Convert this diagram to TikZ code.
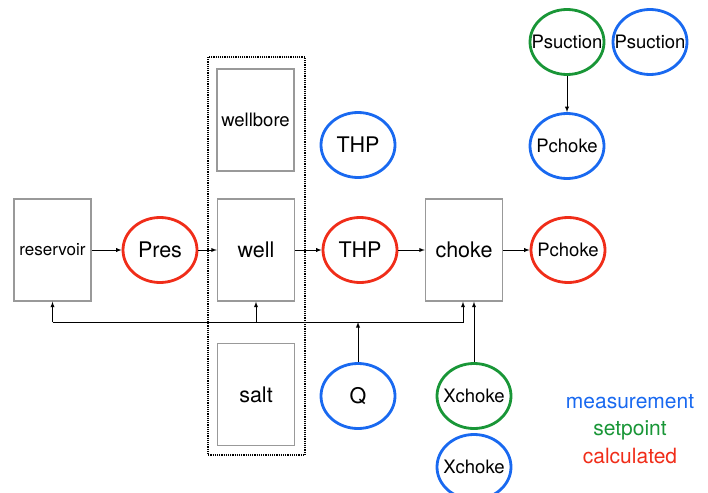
\documentclass[tikz,border=0pt]{standalone}
\usepackage{fontspec}
\setmainfont{TeX Gyre Heros}
\usetikzlibrary{shapes.geometric}
\definecolor{calcred}{RGB}{240,45,25}
\definecolor{measblue}{RGB}{25,105,240}
\definecolor{setgreen}{RGB}{25,150,55}
\newcommand{\bigtxt}{\fontsize{21.5}{23}\selectfont}
\newcommand{\midtxt}{\fontsize{18.5}{20}\selectfont}
\newcommand{\vname}[1]{\makebox[0pt]{#1}}
\begin{document}
\begin{tikzpicture}
        [x=1pt,y=-1pt,
        box/.style={draw=gray!80,line width=1.4pt,minimum width=77pt,minimum height=102pt,inner sep=0pt},
        var/.style={ellipse,line width=2.8pt,minimum width=74pt,minimum height=65pt,inner sep=0pt},
        calc/.style={var,draw=calcred},
        meas/.style={var,draw=measblue},
        setp/.style={var,draw=setgreen},
        link/.style={-latex,line width=0.9pt}]
        \useasboundingbox (0,0) rectangle (708,492);
        % blocks
        \node[box] (reservoir) at (52.5,250) {\fontsize{17}{18}\selectfont reservoir};
        \node[box] (wellbore) at (255.5,120) {\midtxt wellbore};
        \node[box] (well) at (256,250) {\bigtxt well};
        \node[box] (salt) at (256,394.5) {\bigtxt salt};
        \node[box] (choke) at (464,250) {\bigtxt choke};
        \draw[densely dotted,line width=1.2pt] (208,57) rectangle (305,455);
        % variables
        \node[calc] (pres) at (160,250) {\bigtxt\vname{Pres}};
        \node[calc] (thpcalc) at (360,250) {\bigtxt\vname{THP}};
        \node[calc] (pchokecalc) at (568,250) {\midtxt\vname{Pchoke}};
        \node[meas] (thpmeas) at (358,145) {\bigtxt\vname{THP}};
        \node[meas] (q) at (358,396) {\bigtxt\vname{Q}};
        \node[setp] (xchokeset) at (474,396) {\midtxt\vname{Xchoke}};
        \node[meas] (xchokemeas) at (474,467) {\midtxt\vname{Xchoke}};
        \node[setp] (psucset) at (567,42) {\midtxt\vname{Psuction}};
        \node[meas] (psucmeas) at (650,42) {\midtxt\vname{Psuction}};
        \node[meas] (pchokemeas) at (567,146) {\midtxt\vname{Pchoke}};
        % legend
        \node[text=measblue] (lmeas) at (630,402) {\fontsize{21}{23}\selectfont measurement};
        \node[text=setgreen] (lset) at (630,430) {\fontsize{21}{23}\selectfont setpoint};
        \node[text=calcred] (lcalc) at (630,456) {\fontsize{21}{23}\selectfont calculated};
        % flow
        \draw[link] (reservoir) -- (pres);
        \draw[link] (pres) -- (well);
        \draw[link] (well) -- (thpcalc);
        \draw[link] (thpcalc) -- (choke);
        \draw[link] (choke) -- (pchokecalc);
        \draw[link] (psucset) -- (pchokemeas);
        % feedback line
        \coordinate (fb) at (358,322);
        \draw[link] (reservoir.south |- fb) -- (reservoir.south);
        \draw[link] (well.south |- fb) -- (well.south);
        \draw[link] (reservoir.south |- fb) -| ([xshift=-1pt]choke.south);
        \draw[link] (q) -- (fb);
        \draw[link] (xchokeset.north) -- (xchokeset.north |- choke.south);
      \end{tikzpicture}
\end{document}
